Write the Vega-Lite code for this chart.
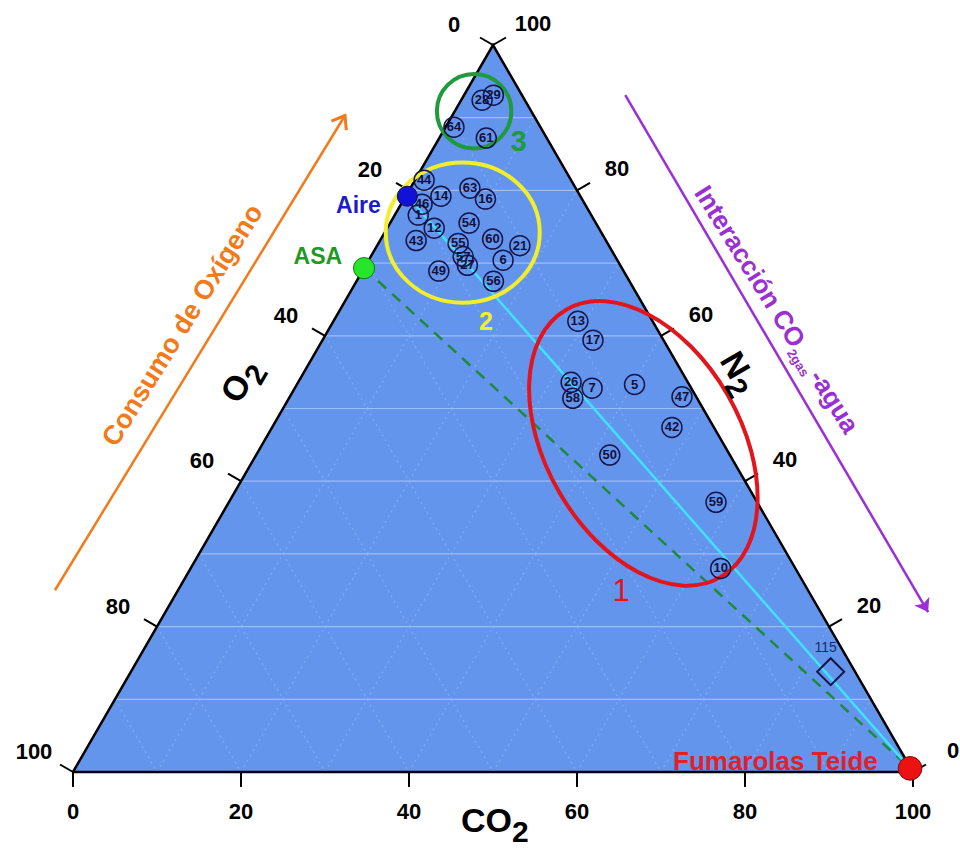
{
  "$schema": "https://vega.github.io/schema/vega-lite/v6.json",
  "width": 840,
  "height": 727,
  "autosize": {"type": "none"},
  "padding": {"left": 73, "top": 45, "right": 47, "bottom": 76},
  "background": "white",
  "config": {"view": {"stroke": null}, "font": "Liberation Sans"},
  "data": {
    "values": [
      {"k": "tri", "co2": 0, "n2": 0, "o": 1},
      {"k": "tri", "co2": 0, "n2": 100, "o": 2},
      {"k": "tri", "co2": 100, "n2": 0, "o": 3},
      {"k": "edge", "co2": 0, "n2": 0, "o": 1},
      {"k": "edge", "co2": 0, "n2": 100, "o": 2},
      {"k": "edge", "co2": 100, "n2": 0, "o": 3},
      {"k": "edge", "co2": 0, "n2": 0, "o": 4},

      {"k": "gh", "g": "h10", "co2": 0, "n2": 10}, {"k": "gh", "g": "h10", "co2": 90, "n2": 10},
      {"k": "gh", "g": "h20", "co2": 0, "n2": 20}, {"k": "gh", "g": "h20", "co2": 80, "n2": 20},
      {"k": "gh", "g": "h30", "co2": 0, "n2": 30}, {"k": "gh", "g": "h30", "co2": 70, "n2": 30},
      {"k": "gh", "g": "h40", "co2": 0, "n2": 40}, {"k": "gh", "g": "h40", "co2": 60, "n2": 40},
      {"k": "gh", "g": "h50", "co2": 0, "n2": 50}, {"k": "gh", "g": "h50", "co2": 50, "n2": 50},
      {"k": "gh", "g": "h60", "co2": 0, "n2": 60}, {"k": "gh", "g": "h60", "co2": 40, "n2": 60},
      {"k": "gh", "g": "h70", "co2": 0, "n2": 70}, {"k": "gh", "g": "h70", "co2": 30, "n2": 70},
      {"k": "gh", "g": "h80", "co2": 0, "n2": 80}, {"k": "gh", "g": "h80", "co2": 20, "n2": 80},
      {"k": "gh", "g": "h90", "co2": 0, "n2": 90}, {"k": "gh", "g": "h90", "co2": 10, "n2": 90},

      {"k": "gd", "g": "c10", "co2": 10, "n2": 0}, {"k": "gd", "g": "c10", "co2": 10, "n2": 90},
      {"k": "gd", "g": "c20", "co2": 20, "n2": 0}, {"k": "gd", "g": "c20", "co2": 20, "n2": 80},
      {"k": "gd", "g": "c30", "co2": 30, "n2": 0}, {"k": "gd", "g": "c30", "co2": 30, "n2": 70},
      {"k": "gd", "g": "c40", "co2": 40, "n2": 0}, {"k": "gd", "g": "c40", "co2": 40, "n2": 60},
      {"k": "gd", "g": "c50", "co2": 50, "n2": 0}, {"k": "gd", "g": "c50", "co2": 50, "n2": 50},
      {"k": "gd", "g": "c60", "co2": 60, "n2": 0}, {"k": "gd", "g": "c60", "co2": 60, "n2": 40},
      {"k": "gd", "g": "c70", "co2": 70, "n2": 0}, {"k": "gd", "g": "c70", "co2": 70, "n2": 30},
      {"k": "gd", "g": "c80", "co2": 80, "n2": 0}, {"k": "gd", "g": "c80", "co2": 80, "n2": 20},
      {"k": "gd", "g": "c90", "co2": 90, "n2": 0}, {"k": "gd", "g": "c90", "co2": 90, "n2": 10},
      {"k": "gd", "g": "o10", "co2": 90, "n2": 0}, {"k": "gd", "g": "o10", "co2": 0, "n2": 90},
      {"k": "gd", "g": "o20", "co2": 80, "n2": 0}, {"k": "gd", "g": "o20", "co2": 0, "n2": 80},
      {"k": "gd", "g": "o30", "co2": 70, "n2": 0}, {"k": "gd", "g": "o30", "co2": 0, "n2": 70},
      {"k": "gd", "g": "o40", "co2": 60, "n2": 0}, {"k": "gd", "g": "o40", "co2": 0, "n2": 60},
      {"k": "gd", "g": "o50", "co2": 50, "n2": 0}, {"k": "gd", "g": "o50", "co2": 0, "n2": 50},
      {"k": "gd", "g": "o60", "co2": 40, "n2": 0}, {"k": "gd", "g": "o60", "co2": 0, "n2": 40},
      {"k": "gd", "g": "o70", "co2": 30, "n2": 0}, {"k": "gd", "g": "o70", "co2": 0, "n2": 30},
      {"k": "gd", "g": "o80", "co2": 20, "n2": 0}, {"k": "gd", "g": "o80", "co2": 0, "n2": 20},
      {"k": "gd", "g": "o90", "co2": 10, "n2": 0}, {"k": "gd", "g": "o90", "co2": 0, "n2": 10},

      {"k": "tb", "lab": "0", "co2": 0, "n2": 0},
      {"k": "tb", "lab": "20", "co2": 20, "n2": 0},
      {"k": "tb", "lab": "40", "co2": 40, "n2": 0},
      {"k": "tb", "lab": "60", "co2": 60, "n2": 0},
      {"k": "tb", "lab": "80", "co2": 80, "n2": 0},
      {"k": "tb", "lab": "100", "co2": 100, "n2": 0},
      {"k": "tl", "lab": "0", "co2": 0, "n2": 100},
      {"k": "tl", "lab": "20", "co2": 0, "n2": 80},
      {"k": "tl", "lab": "40", "co2": 0, "n2": 60},
      {"k": "tl", "lab": "60", "co2": 0, "n2": 40},
      {"k": "tl", "lab": "80", "co2": 0, "n2": 20},
      {"k": "tl", "lab": "100", "co2": 0, "n2": 0},
      {"k": "tr", "lab": "0", "co2": 100, "n2": 0},
      {"k": "tr", "lab": "20", "co2": 80, "n2": 20},
      {"k": "tr", "lab": "40", "co2": 60, "n2": 40},
      {"k": "tr", "lab": "60", "co2": 40, "n2": 60},
      {"k": "tr", "lab": "80", "co2": 20, "n2": 80},
      {"k": "tr", "lab": "100", "co2": 0, "n2": 100},

      {"k": "cyan", "o": 1, "co2": 0.2, "n2": 79.2},
      {"k": "cyan", "o": 2, "co2": 99.4, "n2": 0.5},
      {"k": "asal", "o": 1, "co2": 0, "n2": 69.3},
      {"k": "asal", "o": 2, "co2": 99.4, "n2": 0.5},

      {"k": "e1", "co2": 45.3, "n2": 45.2},
      {"k": "e2", "co2": 9.3, "n2": 74.2},
      {"k": "e3", "co2": 2.3, "n2": 90.9},
      {"k": "g1", "lab": "1", "co2": 52.9, "n2": 24.7},
      {"k": "g2", "lab": "2", "co2": 18.2, "n2": 61.9},
      {"k": "g3", "lab": "3", "co2": 9.7, "n2": 86.7},

      {"k": "s", "id": "29", "co2": 3.5, "n2": 93.1},
      {"k": "s", "id": "28", "co2": 2.5, "n2": 92.4},
      {"k": "s", "id": "64", "co2": 1.0, "n2": 88.7},
      {"k": "s", "id": "61", "co2": 5.6, "n2": 87.2},
      {"k": "s", "id": "44", "co2": 1.1, "n2": 81.4},
      {"k": "s", "id": "14", "co2": 4.2, "n2": 79.2},
      {"k": "s", "id": "63", "co2": 7.1, "n2": 80.3},
      {"k": "s", "id": "16", "co2": 9.7, "n2": 78.8},
      {"k": "s", "id": "46", "co2": 2.5, "n2": 78.1},
      {"k": "s", "id": "1", "co2": 2.8, "n2": 76.6},
      {"k": "s", "id": "12", "co2": 5.6, "n2": 74.8},
      {"k": "s", "id": "43", "co2": 4.3, "n2": 73.1},
      {"k": "s", "id": "54", "co2": 9.4, "n2": 75.5},
      {"k": "s", "id": "55", "co2": 9.5, "n2": 72.7},
      {"k": "s", "id": "60", "co2": 13.3, "n2": 73.3},
      {"k": "s", "id": "21", "co2": 17.0, "n2": 72.4},
      {"k": "s", "id": "6", "co2": 16.0, "n2": 70.4},
      {"k": "s", "id": "57", "co2": 11.0, "n2": 70.9},
      {"k": "s", "id": "27", "co2": 12.1, "n2": 69.7},
      {"k": "s", "id": "49", "co2": 9.1, "n2": 68.9},
      {"k": "s", "id": "56", "co2": 16.3, "n2": 67.5},
      {"k": "s", "id": "13", "co2": 29.1, "n2": 62.0},
      {"k": "s", "id": "17", "co2": 32.2, "n2": 59.4},
      {"k": "s", "id": "26", "co2": 32.5, "n2": 53.6},
      {"k": "s", "id": "7", "co2": 35.4, "n2": 52.8},
      {"k": "s", "id": "58", "co2": 33.8, "n2": 51.4},
      {"k": "s", "id": "5", "co2": 40.2, "n2": 53.3},
      {"k": "s", "id": "47", "co2": 46.7, "n2": 51.6},
      {"k": "s", "id": "42", "co2": 47.6, "n2": 47.4},
      {"k": "s", "id": "50", "co2": 42.1, "n2": 43.6},
      {"k": "s", "id": "59", "co2": 58.0, "n2": 37.1},
      {"k": "s", "id": "10", "co2": 63.1, "n2": 28.0},

      {"k": "d115", "lab": "115", "co2": 83.3, "n2": 13.8},
      {"k": "l115", "lab": "115", "co2": 81.1, "n2": 17.0},

      {"k": "aire", "lab": "Aire", "co2": 0.2, "n2": 79.2},
      {"k": "asa", "lab": "ASA", "co2": 0, "n2": 69.3},
      {"k": "fum", "lab": "Fumarolas Teide", "co2": 99.4, "n2": 0.5},
      {"k": "laire", "lab": "Aire", "co2": -2.3, "n2": 77.9},
      {"k": "lasa", "lab": "ASA", "co2": -6.3, "n2": 70.9},
      {"k": "lfum", "lab": "Fumarolas Teide", "co2": 95.1, "n2": 1.4},

      {"k": "arrO", "o": 1, "co2": -14.65, "n2": 25.0},
      {"k": "arrO", "o": 2, "co2": -12.77, "n2": 90.3},
      {"k": "headO", "co2": -12.77, "n2": 90.3},
      {"k": "arrP", "o": 1, "co2": 19.2, "n2": 93.1},
      {"k": "arrP", "o": 2, "co2": 90.8, "n2": 22.0},
      {"k": "headP", "co2": 90.8, "n2": 22.0},
      {"k": "txtO", "lab": "Consumo de Oxígeno", "co2": -17.6, "n2": 61.4},
      {"k": "txtP", "co2": 57.0, "n2": 58.7},

      {"k": "tCO2", "co2": 55.7, "n2": -6.9},
      {"k": "tO2", "co2": -6.8, "n2": 54.3},
      {"k": "tN2", "co2": 52.2, "n2": 54.4}
    ]
  },
  "transform": [
    {"calculate": "datum.co2 + datum.n2 / 2", "as": "x"}
  ],
  "encoding": {
    "x": {"field": "x", "type": "quantitative", "scale": {"domain": [0, 100], "nice": false, "zero": false}, "axis": null},
    "y": {"field": "n2", "type": "quantitative", "scale": {"domain": [0, 100], "nice": false, "zero": false}, "axis": null}
  },
  "layer": [
    {"transform": [{"filter": "datum.k === 'tri'"}], "mark": {"type": "area", "color": "#6495ed", "opacity": 1}},
    {"transform": [{"filter": "datum.k === 'gh'"}], "mark": {"type": "line", "color": "#9fbcf7", "strokeWidth": 1.2}, "encoding": {"detail": {"field": "g"}}},
    {"transform": [{"filter": "datum.k === 'gd'"}], "mark": {"type": "line", "color": "#8fb0f3", "strokeWidth": 1.5, "strokeDash": [2, 4], "opacity": 0.6}, "encoding": {"detail": {"field": "g"}}},
    {"transform": [{"filter": "datum.k === 'edge'"}], "mark": {"type": "line", "color": "#000000", "strokeWidth": 2.5, "strokeJoin": "miter"}, "encoding": {"order": {"field": "o"}}},
    {"transform": [{"filter": "datum.k === 'tb'"}], "mark": {"type": "point", "shape": "M0,0L0,1", "size": 900, "angle": 0, "filled": false, "stroke": "#000000", "strokeWidth": 2, "opacity": 1}},
    {"transform": [{"filter": "datum.k === 'tl'"}], "mark": {"type": "point", "shape": "M0,0L0,1", "size": 900, "angle": 120, "filled": false, "stroke": "#000000", "strokeWidth": 2, "opacity": 1}},
    {"transform": [{"filter": "datum.k === 'tr'"}], "mark": {"type": "point", "shape": "M0,0L0,1", "size": 900, "angle": 240, "filled": false, "stroke": "#000000", "strokeWidth": 2, "opacity": 1}},
    {"transform": [{"filter": "datum.k === 'tb'"}], "mark": {"type": "text", "fontSize": 22, "fontWeight": "bold", "color": "#000000", "align": "center", "baseline": "middle", "dy": 40}, "encoding": {"text": {"field": "lab"}}},
    {"transform": [{"filter": "datum.k === 'tl'"}], "mark": {"type": "text", "fontSize": 22, "fontWeight": "bold", "color": "#000000", "align": "center", "baseline": "middle", "dx": -39, "dy": -20}, "encoding": {"text": {"field": "lab"}}},
    {"transform": [{"filter": "datum.k === 'tr'"}], "mark": {"type": "text", "fontSize": 22, "fontWeight": "bold", "color": "#000000", "align": "center", "baseline": "middle", "dx": 40, "dy": -21}, "encoding": {"text": {"field": "lab"}}},

    {"transform": [{"filter": "datum.k === 'asal'"}], "mark": {"type": "line", "color": "#1f8a3c", "strokeWidth": 2.5, "strokeDash": [11, 8]}, "encoding": {"order": {"field": "o"}}},
    {"transform": [{"filter": "datum.k === 'cyan'"}], "mark": {"type": "line", "color": "#3fe3ff", "strokeWidth": 2.5}, "encoding": {"order": {"field": "o"}}},

    {"transform": [{"filter": "datum.k === 'e1'"}], "mark": {"type": "point", "shape": "M1,0A1,0.63,0,1,1,-1,0A1,0.63,0,1,1,1,0Z", "size": 95357, "angle": 60, "filled": false, "stroke": "#e3151c", "strokeWidth": 4, "opacity": 1}},
    {"transform": [{"filter": "datum.k === 'e2'"}], "mark": {"type": "point", "shape": "M1,0A1,0.91,0,1,1,-1,0A1,0.91,0,1,1,1,0Z", "size": 23716, "filled": false, "stroke": "#f3ee2c", "strokeWidth": 4, "opacity": 1}},
    {"transform": [{"filter": "datum.k === 'e3'"}], "mark": {"type": "point", "shape": "circle", "size": 5542, "filled": false, "stroke": "#1f9a3c", "strokeWidth": 4, "opacity": 1}},
    {"transform": [{"filter": "datum.k === 'g1'"}], "mark": {"type": "text", "fontSize": 31, "color": "#e3151c", "align": "center", "baseline": "middle"}, "encoding": {"text": {"field": "lab"}}},
    {"transform": [{"filter": "datum.k === 'g2'"}], "mark": {"type": "text", "fontSize": 25, "fontWeight": "bold", "color": "#f3ee2c", "align": "center", "baseline": "middle"}, "encoding": {"text": {"field": "lab"}}},
    {"transform": [{"filter": "datum.k === 'g3'"}], "mark": {"type": "text", "fontSize": 29, "fontWeight": "bold", "color": "#1f9a3c", "align": "center", "baseline": "middle"}, "encoding": {"text": {"field": "lab"}}},

    {"transform": [{"filter": "datum.k === 's'"}], "mark": {"type": "point", "shape": "circle", "size": 400, "filled": false, "stroke": "#15154a", "strokeWidth": 1.5, "opacity": 1}},
    {"transform": [{"filter": "datum.k === 's'"}], "mark": {"type": "text", "fontSize": 13, "fontWeight": "bold", "color": "#10103a", "align": "center", "baseline": "middle"}, "encoding": {"text": {"field": "id"}}},
    {"transform": [{"filter": "datum.k === 'd115'"}], "mark": {"type": "point", "shape": "diamond", "size": 729, "filled": false, "stroke": "#15154a", "strokeWidth": 2, "opacity": 1}},
    {"transform": [{"filter": "datum.k === 'l115'"}], "mark": {"type": "text", "fontSize": 14, "color": "#1d2a6a", "align": "center", "baseline": "middle"}, "encoding": {"text": {"field": "lab"}}},

    {"transform": [{"filter": "datum.k === 'aire'"}], "mark": {"type": "point", "shape": "circle", "size": 400, "filled": true, "color": "#1212d6", "stroke": "#0a0a60", "strokeWidth": 1, "opacity": 1}},
    {"transform": [{"filter": "datum.k === 'asa'"}], "mark": {"type": "point", "shape": "circle", "size": 450, "filled": true, "color": "#27e52a", "stroke": "#137a15", "strokeWidth": 1, "opacity": 1}},
    {"transform": [{"filter": "datum.k === 'fum'"}], "mark": {"type": "point", "shape": "circle", "size": 560, "filled": true, "color": "#ec1212", "stroke": "#7a0a0a", "strokeWidth": 1, "opacity": 1}},
    {"transform": [{"filter": "datum.k === 'laire'"}], "mark": {"type": "text", "fontSize": 23, "fontWeight": "bold", "color": "#1c1cc8", "align": "right", "baseline": "middle"}, "encoding": {"text": {"field": "lab"}}},
    {"transform": [{"filter": "datum.k === 'lasa'"}], "mark": {"type": "text", "fontSize": 23, "fontWeight": "bold", "color": "#1e9a22", "align": "center", "baseline": "middle"}, "encoding": {"text": {"field": "lab"}}},
    {"transform": [{"filter": "datum.k === 'lfum'"}], "mark": {"type": "text", "fontSize": 26, "fontWeight": "bold", "color": "#e0202a", "align": "right", "baseline": "middle"}, "encoding": {"text": {"field": "lab"}}},

    {"transform": [{"filter": "datum.k === 'arrO'"}], "mark": {"type": "line", "color": "#f27a1a", "strokeWidth": 2.5}, "encoding": {"order": {"field": "o"}}},
    {"transform": [{"filter": "datum.k === 'headO'"}], "mark": {"type": "point", "shape": "M-0.55,0.75L0,0L0.55,0.75", "size": 1000, "angle": 31, "filled": false, "stroke": "#f27a1a", "strokeWidth": 3, "opacity": 1}},
    {"transform": [{"filter": "datum.k === 'arrP'"}], "mark": {"type": "line", "color": "#9a2fd4", "strokeWidth": 2.5}, "encoding": {"order": {"field": "o"}}},
    {"transform": [{"filter": "datum.k === 'headP'"}], "mark": {"type": "point", "shape": "M0,0L-0.55,0.8L0,0.6L0.55,0.8Z", "size": 1000, "angle": 150, "filled": true, "color": "#9a2fd4", "strokeWidth": 1, "opacity": 1}},
    {"transform": [{"filter": "datum.k === 'txtO'"}], "mark": {"type": "text", "fontSize": 27, "fontWeight": "bold", "color": "#f27a1a", "align": "center", "baseline": "middle", "angle": 302}, "encoding": {"text": {"field": "lab"}}},
    {"transform": [{"filter": "datum.k === 'txtP'"}], "mark": {"type": "text", "text": "Interacción CO", "fontSize": 26, "fontWeight": "bold", "color": "#9a2fd4", "align": "right", "baseline": "middle", "angle": 58}},
    {"transform": [{"filter": "datum.k === 'txtP'"}], "mark": {"type": "text", "text": "2gas", "fontSize": 13, "fontWeight": "bold", "color": "#9a2fd4", "align": "left", "baseline": "middle", "angle": 58, "dy": 10}},
    {"transform": [{"filter": "datum.k === 'txtP'"}], "mark": {"type": "text", "text": "-agua", "fontSize": 26, "fontWeight": "bold", "color": "#9a2fd4", "align": "left", "baseline": "middle", "angle": 58, "dx": 32}},

    {"transform": [{"filter": "datum.k === 'tCO2'"}], "mark": {"type": "text", "text": "CO", "fontSize": 34, "fontWeight": "bold", "color": "#000000", "align": "right", "baseline": "middle"}},
    {"transform": [{"filter": "datum.k === 'tCO2'"}], "mark": {"type": "text", "text": "2", "fontSize": 30, "fontWeight": "bold", "color": "#000000", "align": "left", "baseline": "middle", "dy": 11}},
    {"transform": [{"filter": "datum.k === 'tO2'"}], "mark": {"type": "text", "text": "O", "fontSize": 34, "fontWeight": "bold", "color": "#000000", "align": "right", "baseline": "middle", "angle": 300}},
    {"transform": [{"filter": "datum.k === 'tO2'"}], "mark": {"type": "text", "text": "2", "fontSize": 30, "fontWeight": "bold", "color": "#000000", "align": "left", "baseline": "middle", "angle": 300, "dy": 10}},
    {"transform": [{"filter": "datum.k === 'tN2'"}], "mark": {"type": "text", "text": "N", "fontSize": 34, "fontWeight": "bold", "color": "#000000", "align": "right", "baseline": "middle", "angle": 60}},
    {"transform": [{"filter": "datum.k === 'tN2'"}], "mark": {"type": "text", "text": "2", "fontSize": 30, "fontWeight": "bold", "color": "#000000", "align": "left", "baseline": "middle", "angle": 60, "dy": 10}}
  ]
}
